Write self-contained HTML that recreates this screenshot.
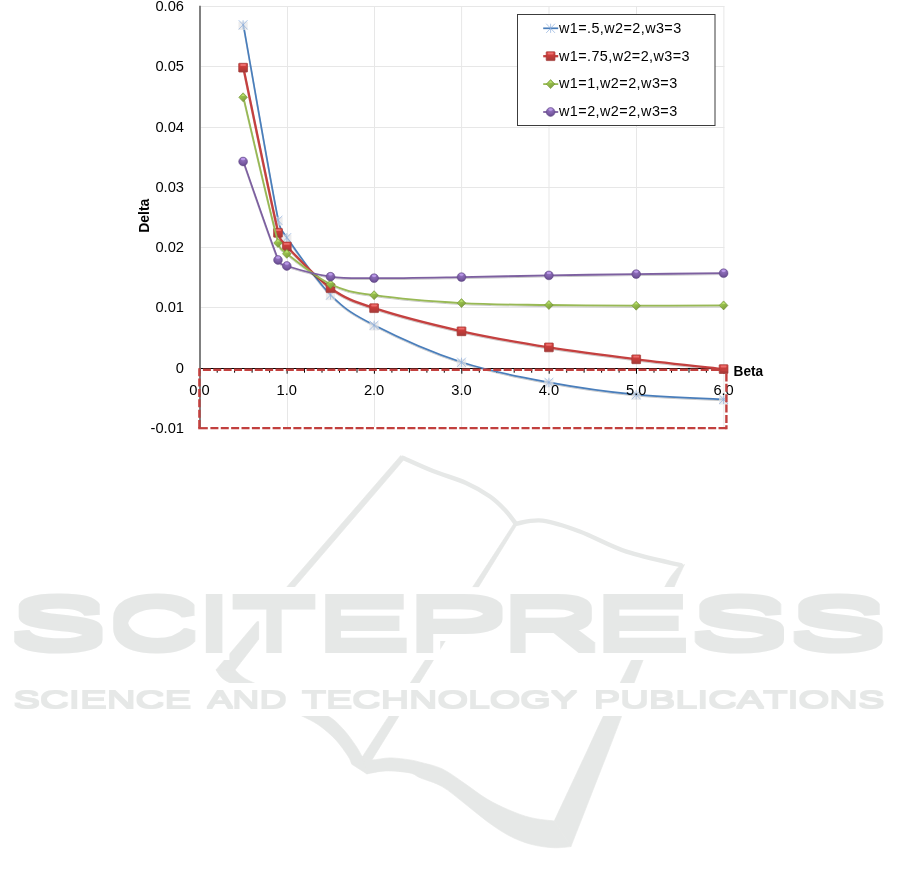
<!DOCTYPE html>
<html lang="en"><head><meta charset="utf-8"><title>Delta vs Beta</title>
<style>
html,body{margin:0;padding:0;background:#fff;}
body{width:901px;height:884px;overflow:hidden;position:relative;font-family:"Liberation Sans",sans-serif;}
svg{position:absolute;left:0;top:0;display:block;}
text{font-family:"Liberation Sans",sans-serif;fill:#000;}
.ax{font-size:14.7px;}
.lg{font-size:14.4px;}
.b{font-weight:bold;font-size:13.9px;}
</style></head><body>
<svg width="901" height="884" viewBox="0 0 901 884">
<defs>
<linearGradient id="gr" x1="0" y1="0" x2="0" y2="1"><stop offset="0" stop-color="#d94644"/><stop offset="0.5" stop-color="#c53b39"/><stop offset="1" stop-color="#a33b39"/></linearGradient>
<linearGradient id="gg" x1="0" y1="0" x2="0.6" y2="1"><stop offset="0" stop-color="#a9d45c"/><stop offset="0.5" stop-color="#96bd4b"/><stop offset="1" stop-color="#7c9c3c"/></linearGradient>
<radialGradient id="gp" cx="0.5" cy="0.3" r="0.75"><stop offset="0" stop-color="#9374c0"/><stop offset="0.55" stop-color="#7c5da6"/><stop offset="1" stop-color="#5e4484"/></radialGradient>
<filter id="sh" x="-5%" y="-5%" width="110%" height="110%"><feGaussianBlur in="SourceAlpha" stdDeviation="0.6"/><feOffset dx="0" dy="1.1"/><feComponentTransfer><feFuncA type="linear" slope="0.22"/></feComponentTransfer><feMerge><feMergeNode/><feMergeNode in="SourceGraphic"/></feMerge></filter>
<filter id="wmA" filterUnits="userSpaceOnUse" x="0" y="570" width="901" height="110"><feMorphology in="SourceAlpha" operator="dilate" radius="1 5" result="fat"/><feMorphology in="fat" operator="dilate" radius="7" result="big"/><feFlood flood-color="#fff"/><feComposite in2="big" operator="in" result="halo"/><feFlood flood-color="#e6e8e7"/><feComposite in2="fat" operator="in" result="ink"/><feMerge><feMergeNode in="halo"/><feMergeNode in="ink"/></feMerge></filter>
<filter id="wmB" filterUnits="userSpaceOnUse" x="0" y="675" width="901" height="50"><feMorphology in="SourceAlpha" operator="dilate" radius="1 1" result="fat"/><feMorphology in="fat" operator="dilate" radius="7" result="big"/><feFlood flood-color="#fff"/><feComposite in2="big" operator="in" result="halo"/><feFlood flood-color="#e6e8e7"/><feComposite in2="fat" operator="in" result="ink"/><feMerge><feMergeNode in="halo"/><feMergeNode in="ink"/></feMerge></filter>
</defs>
<rect width="901" height="884" fill="#fff"/>

<g fill="#e6e8e7" stroke="#e6e8e7" stroke-width="0.7" stroke-linejoin="round">
<path d="M400.8 455.5L404 459.5L295 586.5L288.6 594L280.7 594Z"/>
<path d="M256.9 621.7L258.9 621.7L258.9 639L235 669.9L216 669.9Z"/>
<path d="M216 669.9 C217.0 671.2 219.3 675.6 222.0 677.9 C224.7 680.2 226.8 681.3 232.0 683.9 C239.2 687.4 253.3 693.6 265.0 699.0 C276.7 704.4 292.8 711.5 302.0 716.0 C311.2 720.5 314.4 722.0 320.0 726.0 C325.6 730.0 331.2 735.0 335.9 740.0 C340.5 745.0 345.2 751.9 347.9 755.9 C350.5 759.8 351.2 762.9 351.9 764.3 L366.9 773.9 L371.9 759.9 L362.3 756.9 C361.2 755.1 359.0 750.4 355.9 745.9 C352.8 741.4 348.5 735.0 343.9 730.0 C339.2 725.0 336.1 720.8 328.0 716.0 C319.9 711.2 306.4 706.1 295.0 701.0 C283.6 695.9 268.4 689.4 259.9 685.5 C251.8 681.9 248.1 680.5 243.9 677.9 C239.8 675.3 236.5 671.2 235.0 669.9Z"/>
<path d="M514.3 523L517.2 524.2L371.9 759.9L362.3 756.9Z"/>
<path d="M362.3 756.9 C363.9 757.4 367.3 759.7 371.9 759.9 C376.5 760.1 383.6 757.9 389.9 757.9 C396.2 757.9 404.9 759.2 409.9 759.9 C414.9 760.6 415.0 760.8 420.0 762.2 C425.4 763.7 434.8 765.4 442.2 768.9 C449.6 772.4 457.0 778.3 464.4 783.3 C471.8 788.3 479.2 794.4 486.6 798.8 C494.0 803.2 501.4 806.8 508.8 809.9 C516.2 813.0 523.4 815.9 531.0 817.7 C538.6 819.6 550.4 820.5 554.3 821.0 L570.9 846.6 C567.9 846.8 559.9 848.1 553.2 847.7 C546.6 847.3 538.4 846.3 531.0 844.3 C523.6 842.3 516.2 839.4 508.8 835.5 C501.4 831.6 494.0 826.4 486.6 821.0 C479.2 815.6 471.8 809.0 464.4 803.3 C457.0 797.6 449.6 790.9 442.2 786.6 C434.8 782.3 425.4 780.0 420.0 777.7 C414.9 775.5 415.4 774.0 409.9 772.9 C404.2 771.8 393.1 770.7 385.9 770.9 C378.7 771.1 370.1 773.4 366.9 773.9Z"/>
<path d="M677.5 568.0 C675.5 571.0 670.1 576.2 665.3 585.9 C657.6 601.2 641.9 638.2 631.5 660.0 C621.1 681.8 610.5 701.6 603.2 716.6 C595.9 731.6 592.0 740.6 587.6 750.0 C583.2 759.4 582.1 761.6 576.7 773.2 C571.2 785.0 558.0 813.0 554.3 821.0 L570.9 846.6 C575.7 834.4 593.3 789.3 599.6 773.2 C604.1 761.6 605.1 759.4 608.7 750.0 C612.4 740.6 615.8 731.6 621.5 716.6 C627.2 701.6 634.2 681.8 643.1 660.0 C652.0 638.2 667.7 601.8 674.6 585.9 C679.3 575.1 682.9 568.1 684.5 564.5Z"/>
</g>
<path d="M401.5 457.2 C406.8 459.5 422.2 466.7 433.0 471.0 C443.8 475.3 456.5 478.8 466.0 483.0 C475.5 487.2 483.5 492.0 490.0 496.5 C496.5 501.0 500.7 505.5 505.0 510.0 C509.3 514.5 514.0 521.4 515.8 523.7" fill="none" stroke="#e6e8e7" stroke-width="4.4" stroke-linecap="butt"/>
<path d="M515.8 523.7 C520.2 523.2 531.8 519.3 542.5 520.6 C553.2 521.9 565.8 526.3 579.8 531.5 C593.8 536.7 609.6 546.1 626.5 551.7 C643.4 557.3 671.9 563.0 681.0 565.2" fill="none" stroke="#e6e8e7" stroke-width="4.4" stroke-linecap="round"/>
<rect x="200" y="684.5" width="500" height="31.5" fill="#fff"/>
<text aria-label="SCITEPRESS" y="648.0" font-size="70.9" filter="url(#wmA)" style="font-kerning:none;fill:#e6e8e7"><tspan x="8.1" textLength="100.5" lengthAdjust="spacingAndGlyphs">S</tspan><tspan x="107.7" textLength="91.9" lengthAdjust="spacingAndGlyphs">C</tspan><tspan x="192.6" textLength="43.2" lengthAdjust="spacingAndGlyphs">I</tspan><tspan x="230.6" textLength="87.1" lengthAdjust="spacingAndGlyphs">T</tspan><tspan x="314.2" textLength="97.7" lengthAdjust="spacingAndGlyphs">E</tspan><tspan x="404.5" textLength="105.4" lengthAdjust="spacingAndGlyphs">P</tspan><tspan x="500.0" textLength="101.2" lengthAdjust="spacingAndGlyphs">R</tspan><tspan x="592.3" textLength="99.1" lengthAdjust="spacingAndGlyphs">E</tspan><tspan x="688.5" textLength="101.5" lengthAdjust="spacingAndGlyphs">S</tspan><tspan x="787.4" textLength="101.1" lengthAdjust="spacingAndGlyphs">S</tspan></text>
<text y="708.1" font-size="23.4" filter="url(#wmB)" style="font-kerning:none;fill:#e6e8e7"><tspan x="13.2" textLength="178.0" lengthAdjust="spacingAndGlyphs">SCIENCE</tspan> <tspan x="207.4" textLength="79.1" lengthAdjust="spacingAndGlyphs">AND</tspan> <tspan x="302.1" textLength="275.0" lengthAdjust="spacingAndGlyphs">TECHNOLOGY</tspan> <tspan x="593.8" textLength="290.6" lengthAdjust="spacingAndGlyphs">PUBLICATIONS</tspan></text>
<g stroke="#e7e7e7" stroke-width="1" fill="none">
<path d="M200 6.5H724.4"/>
<path d="M200 66.5H724.4"/>
<path d="M200 127.5H724.4"/>
<path d="M200 187.5H724.4"/>
<path d="M200 247.5H724.4"/>
<path d="M200 307.5H724.4"/>
<path d="M287.5 6V427"/>
<path d="M374.5 6V427"/>
<path d="M461.6 6V427"/>
<path d="M549.0 6V427"/>
<path d="M636.5 6V427"/>
<path d="M723.9 6V427"/>
</g>
<path d="M200 5.7V428.3" stroke="#7a7a7a" stroke-width="1.9" fill="none"/>
<g stroke="#000" stroke-width="1" fill="none">
<path d="M200.9 368.5H724.4"/>
<path d="M199.7 368.5v5.2M217.2 368.5v4.2M234.6 368.5v4.2M252.1 368.5v4.2M269.6 368.5v4.2M287.1 368.5v5.2M304.5 368.5v4.2M322.0 368.5v4.2M339.5 368.5v4.2M357.0 368.5v4.2M374.4 368.5v5.2M391.9 368.5v4.2M409.4 368.5v4.2M426.9 368.5v4.2M444.3 368.5v4.2M461.8 368.5v5.2M479.3 368.5v4.2M496.8 368.5v4.2M514.2 368.5v4.2M531.7 368.5v4.2M549.2 368.5v5.2M566.7 368.5v4.2M584.1 368.5v4.2M601.6 368.5v4.2M619.1 368.5v4.2M636.5 368.5v5.2M654.0 368.5v4.2M671.5 368.5v4.2M689.0 368.5v4.2M706.4 368.5v4.2M723.9 368.5v5.2"/>
</g>
<g class="ax" text-anchor="end">
<text x="184" y="10.5">0.06</text>
<text x="184" y="70.5">0.05</text>
<text x="184" y="131.5">0.04</text>
<text x="184" y="191.5">0.03</text>
<text x="184" y="251.5">0.02</text>
<text x="184" y="311.5">0.01</text>
<text x="184" y="372.5">0</text>
<text x="184" y="432.5">-0.01</text>
</g>
<text class="b" transform="translate(149.1 232.8) rotate(-90)" textLength="34.2" lengthAdjust="spacingAndGlyphs">Delta</text>
<text class="b" x="733.6" y="376" textLength="29.6" lengthAdjust="spacingAndGlyphs">Beta</text>
<path d="M243.38 24.80 C249.21 57.38 271.05 184.82 278.33 220.30 C280.29 229.84 281.48 229.73 287.07 237.70 C295.81 250.15 316.19 280.40 330.75 295.00 C345.32 309.60 352.60 314.08 374.44 325.30 C396.28 336.52 432.69 352.78 461.81 362.30 C490.93 371.82 520.06 377.00 549.18 382.40 C578.30 387.80 607.43 391.87 636.55 394.70 C665.67 397.53 709.36 398.62 723.92 399.40" stroke="#4a7ebb" fill="none" stroke-width="1.7" stroke-linejoin="round" stroke-linecap="round" filter="url(#sh)"/>
<g>
<g transform="translate(243.1 24.8)"><rect x="-4.6" y="-3.2" width="9.2" height="8.4" fill="#e4e4e6" opacity="0.7"/><path d="M-4.4 -4.6L4.4 4.6M4.4 -4.6L-4.4 4.6M0 -4.6V4.6" stroke="#86aadb" stroke-width="0.65" fill="none"/></g>
<g transform="translate(278.0 220.3)"><rect x="-4.6" y="-3.2" width="9.2" height="8.4" fill="#e4e4e6" opacity="0.7"/><path d="M-4.4 -4.6L4.4 4.6M4.4 -4.6L-4.4 4.6M0 -4.6V4.6" stroke="#86aadb" stroke-width="0.65" fill="none"/></g>
<g transform="translate(286.8 237.7)"><rect x="-4.6" y="-3.2" width="9.2" height="8.4" fill="#e4e4e6" opacity="0.7"/><path d="M-4.4 -4.6L4.4 4.6M4.4 -4.6L-4.4 4.6M0 -4.6V4.6" stroke="#86aadb" stroke-width="0.65" fill="none"/></g>
<g transform="translate(330.5 295.0)"><rect x="-4.6" y="-3.2" width="9.2" height="8.4" fill="#e4e4e6" opacity="0.7"/><path d="M-4.4 -4.6L4.4 4.6M4.4 -4.6L-4.4 4.6M0 -4.6V4.6" stroke="#86aadb" stroke-width="0.65" fill="none"/></g>
<g transform="translate(374.1 325.3)"><rect x="-4.6" y="-3.2" width="9.2" height="8.4" fill="#e4e4e6" opacity="0.7"/><path d="M-4.4 -4.6L4.4 4.6M4.4 -4.6L-4.4 4.6M0 -4.6V4.6" stroke="#86aadb" stroke-width="0.65" fill="none"/></g>
<g transform="translate(461.5 362.3)"><rect x="-4.6" y="-3.2" width="9.2" height="8.4" fill="#e4e4e6" opacity="0.7"/><path d="M-4.4 -4.6L4.4 4.6M4.4 -4.6L-4.4 4.6M0 -4.6V4.6" stroke="#86aadb" stroke-width="0.65" fill="none"/></g>
<g transform="translate(548.9 382.4)"><rect x="-4.6" y="-3.2" width="9.2" height="8.4" fill="#e4e4e6" opacity="0.7"/><path d="M-4.4 -4.6L4.4 4.6M4.4 -4.6L-4.4 4.6M0 -4.6V4.6" stroke="#86aadb" stroke-width="0.65" fill="none"/></g>
<g transform="translate(636.2 394.7)"><rect x="-4.6" y="-3.2" width="9.2" height="8.4" fill="#e4e4e6" opacity="0.7"/><path d="M-4.4 -4.6L4.4 4.6M4.4 -4.6L-4.4 4.6M0 -4.6V4.6" stroke="#86aadb" stroke-width="0.65" fill="none"/></g>
<g transform="translate(723.6 399.4)"><rect x="-4.6" y="-3.2" width="9.2" height="8.4" fill="#e4e4e6" opacity="0.7"/><path d="M-4.4 -4.6L4.4 4.6M4.4 -4.6L-4.4 4.6M0 -4.6V4.6" stroke="#86aadb" stroke-width="0.65" fill="none"/></g>
</g>
<path d="M243.38 67.70 C249.21 95.22 271.05 203.00 278.33 232.80 C280.26 240.69 281.49 240.60 287.07 246.50 C295.81 255.73 316.19 277.92 330.75 288.20 C345.32 298.48 352.60 301.02 374.44 308.20 C396.28 315.38 432.69 324.77 461.81 331.30 C490.93 337.83 520.06 342.73 549.18 347.40 C578.30 352.07 607.43 355.68 636.55 359.30 C665.67 362.92 709.36 367.47 723.92 369.10" stroke="#c4413f" fill="none" stroke-width="2.3" stroke-linejoin="round" stroke-linecap="round" filter="url(#sh)"/>
<g>
<g transform="translate(243.1 67.7)"><rect x="-4.4" y="-4.4" width="8.8" height="8.8" rx="0.5" fill="url(#gr)" stroke="#a23937" stroke-width="0.7"/><rect x="-2.9" y="-3.6" width="5.8" height="1.9" rx="0.9" fill="#ff8a88" opacity="0.6"/></g>
<g transform="translate(278.0 232.8)"><rect x="-4.4" y="-4.4" width="8.8" height="8.8" rx="0.5" fill="url(#gr)" stroke="#a23937" stroke-width="0.7"/><rect x="-2.9" y="-3.6" width="5.8" height="1.9" rx="0.9" fill="#ff8a88" opacity="0.6"/></g>
<g transform="translate(286.8 246.5)"><rect x="-4.4" y="-4.4" width="8.8" height="8.8" rx="0.5" fill="url(#gr)" stroke="#a23937" stroke-width="0.7"/><rect x="-2.9" y="-3.6" width="5.8" height="1.9" rx="0.9" fill="#ff8a88" opacity="0.6"/></g>
<g transform="translate(330.5 288.2)"><rect x="-4.4" y="-4.4" width="8.8" height="8.8" rx="0.5" fill="url(#gr)" stroke="#a23937" stroke-width="0.7"/><rect x="-2.9" y="-3.6" width="5.8" height="1.9" rx="0.9" fill="#ff8a88" opacity="0.6"/></g>
<g transform="translate(374.1 308.2)"><rect x="-4.4" y="-4.4" width="8.8" height="8.8" rx="0.5" fill="url(#gr)" stroke="#a23937" stroke-width="0.7"/><rect x="-2.9" y="-3.6" width="5.8" height="1.9" rx="0.9" fill="#ff8a88" opacity="0.6"/></g>
<g transform="translate(461.5 331.3)"><rect x="-4.4" y="-4.4" width="8.8" height="8.8" rx="0.5" fill="url(#gr)" stroke="#a23937" stroke-width="0.7"/><rect x="-2.9" y="-3.6" width="5.8" height="1.9" rx="0.9" fill="#ff8a88" opacity="0.6"/></g>
<g transform="translate(548.9 347.4)"><rect x="-4.4" y="-4.4" width="8.8" height="8.8" rx="0.5" fill="url(#gr)" stroke="#a23937" stroke-width="0.7"/><rect x="-2.9" y="-3.6" width="5.8" height="1.9" rx="0.9" fill="#ff8a88" opacity="0.6"/></g>
<g transform="translate(636.2 359.3)"><rect x="-4.4" y="-4.4" width="8.8" height="8.8" rx="0.5" fill="url(#gr)" stroke="#a23937" stroke-width="0.7"/><rect x="-2.9" y="-3.6" width="5.8" height="1.9" rx="0.9" fill="#ff8a88" opacity="0.6"/></g>
<g transform="translate(723.6 369.1)"><rect x="-4.4" y="-4.4" width="8.8" height="8.8" rx="0.5" fill="url(#gr)" stroke="#a23937" stroke-width="0.7"/><rect x="-2.9" y="-3.6" width="5.8" height="1.9" rx="0.9" fill="#ff8a88" opacity="0.6"/></g>
</g>
<path d="M243.38 97.30 C249.21 121.58 271.05 216.92 278.33 243.00 C280.20 249.69 281.61 249.50 287.07 253.80 C295.81 260.68 316.19 277.40 330.75 284.30 C345.32 291.20 352.60 292.07 374.44 295.20 C396.28 298.33 432.69 301.47 461.81 303.10 C490.93 304.73 520.06 304.57 549.18 305.00 C578.30 305.43 607.43 305.63 636.55 305.70 C665.67 305.77 709.36 305.45 723.92 305.40" stroke="#98b954" fill="none" stroke-width="1.8" stroke-linejoin="round" stroke-linecap="round" filter="url(#sh)"/>
<g>
<g transform="translate(243.1 97.3)"><path d="M0 -4.5L4.3 0L0 4.5L-4.3 0Z" fill="url(#gg)" stroke="#6f8f34" stroke-width="0.6"/><path d="M0 -3.4L1.9 -1.4L-1.9 -1.4Z" fill="#c3ea78" opacity="0.8"/></g>
<g transform="translate(278.0 243.0)"><path d="M0 -4.5L4.3 0L0 4.5L-4.3 0Z" fill="url(#gg)" stroke="#6f8f34" stroke-width="0.6"/><path d="M0 -3.4L1.9 -1.4L-1.9 -1.4Z" fill="#c3ea78" opacity="0.8"/></g>
<g transform="translate(286.8 253.8)"><path d="M0 -4.5L4.3 0L0 4.5L-4.3 0Z" fill="url(#gg)" stroke="#6f8f34" stroke-width="0.6"/><path d="M0 -3.4L1.9 -1.4L-1.9 -1.4Z" fill="#c3ea78" opacity="0.8"/></g>
<g transform="translate(330.5 284.3)"><path d="M0 -4.5L4.3 0L0 4.5L-4.3 0Z" fill="url(#gg)" stroke="#6f8f34" stroke-width="0.6"/><path d="M0 -3.4L1.9 -1.4L-1.9 -1.4Z" fill="#c3ea78" opacity="0.8"/></g>
<g transform="translate(374.1 295.2)"><path d="M0 -4.5L4.3 0L0 4.5L-4.3 0Z" fill="url(#gg)" stroke="#6f8f34" stroke-width="0.6"/><path d="M0 -3.4L1.9 -1.4L-1.9 -1.4Z" fill="#c3ea78" opacity="0.8"/></g>
<g transform="translate(461.5 303.1)"><path d="M0 -4.5L4.3 0L0 4.5L-4.3 0Z" fill="url(#gg)" stroke="#6f8f34" stroke-width="0.6"/><path d="M0 -3.4L1.9 -1.4L-1.9 -1.4Z" fill="#c3ea78" opacity="0.8"/></g>
<g transform="translate(548.9 305.0)"><path d="M0 -4.5L4.3 0L0 4.5L-4.3 0Z" fill="url(#gg)" stroke="#6f8f34" stroke-width="0.6"/><path d="M0 -3.4L1.9 -1.4L-1.9 -1.4Z" fill="#c3ea78" opacity="0.8"/></g>
<g transform="translate(636.2 305.7)"><path d="M0 -4.5L4.3 0L0 4.5L-4.3 0Z" fill="url(#gg)" stroke="#6f8f34" stroke-width="0.6"/><path d="M0 -3.4L1.9 -1.4L-1.9 -1.4Z" fill="#c3ea78" opacity="0.8"/></g>
<g transform="translate(723.6 305.4)"><path d="M0 -4.5L4.3 0L0 4.5L-4.3 0Z" fill="url(#gg)" stroke="#6f8f34" stroke-width="0.6"/><path d="M0 -3.4L1.9 -1.4L-1.9 -1.4Z" fill="#c3ea78" opacity="0.8"/></g>
</g>
<path d="M243.38 161.50 C249.21 177.92 271.05 242.58 278.33 260.00 C280.38 264.89 282.02 264.39 287.07 266.00 C295.81 268.78 316.19 274.67 330.75 276.70 C345.32 278.73 352.60 278.13 374.44 278.20 C396.28 278.27 432.69 277.57 461.81 277.10 C490.93 276.63 520.06 275.90 549.18 275.40 C578.30 274.90 607.43 274.47 636.55 274.10 C665.67 273.73 709.36 273.35 723.92 273.20" stroke="#7d60a0" fill="none" stroke-width="1.8" stroke-linejoin="round" stroke-linecap="round" filter="url(#sh)"/>
<g>
<g transform="translate(243.1 161.5)"><circle r="4.4" fill="url(#gp)" stroke="#5d4482" stroke-width="0.5"/><ellipse cx="0" cy="-2.5" rx="2.2" ry="1.2" fill="#c6a4f4" opacity="0.8"/></g>
<g transform="translate(278.0 260.0)"><circle r="4.4" fill="url(#gp)" stroke="#5d4482" stroke-width="0.5"/><ellipse cx="0" cy="-2.5" rx="2.2" ry="1.2" fill="#c6a4f4" opacity="0.8"/></g>
<g transform="translate(286.8 266.0)"><circle r="4.4" fill="url(#gp)" stroke="#5d4482" stroke-width="0.5"/><ellipse cx="0" cy="-2.5" rx="2.2" ry="1.2" fill="#c6a4f4" opacity="0.8"/></g>
<g transform="translate(330.5 276.7)"><circle r="4.4" fill="url(#gp)" stroke="#5d4482" stroke-width="0.5"/><ellipse cx="0" cy="-2.5" rx="2.2" ry="1.2" fill="#c6a4f4" opacity="0.8"/></g>
<g transform="translate(374.1 278.2)"><circle r="4.4" fill="url(#gp)" stroke="#5d4482" stroke-width="0.5"/><ellipse cx="0" cy="-2.5" rx="2.2" ry="1.2" fill="#c6a4f4" opacity="0.8"/></g>
<g transform="translate(461.5 277.1)"><circle r="4.4" fill="url(#gp)" stroke="#5d4482" stroke-width="0.5"/><ellipse cx="0" cy="-2.5" rx="2.2" ry="1.2" fill="#c6a4f4" opacity="0.8"/></g>
<g transform="translate(548.9 275.4)"><circle r="4.4" fill="url(#gp)" stroke="#5d4482" stroke-width="0.5"/><ellipse cx="0" cy="-2.5" rx="2.2" ry="1.2" fill="#c6a4f4" opacity="0.8"/></g>
<g transform="translate(636.2 274.1)"><circle r="4.4" fill="url(#gp)" stroke="#5d4482" stroke-width="0.5"/><ellipse cx="0" cy="-2.5" rx="2.2" ry="1.2" fill="#c6a4f4" opacity="0.8"/></g>
<g transform="translate(723.6 273.2)"><circle r="4.4" fill="url(#gp)" stroke="#5d4482" stroke-width="0.5"/><ellipse cx="0" cy="-2.5" rx="2.2" ry="1.2" fill="#c6a4f4" opacity="0.8"/></g>
</g>
<g class="ax" text-anchor="middle">
<text x="199.5" y="394.6">0.0</text>
<text x="286.8" y="394.6">1.0</text>
<text x="374.1" y="394.6">2.0</text>
<text x="461.5" y="394.6">3.0</text>
<text x="548.9" y="394.6">4.0</text>
<text x="636.2" y="394.6">5.0</text>
<text x="723.6" y="394.6">6.0</text>
</g>
<g fill="none" stroke="#c2403e" stroke-width="2.2" stroke-dasharray="8 2.37">
<path d="M202.9 369.7H727.5" stroke-width="2.4"/>
<path d="M199.4 368.2V429.3" stroke-width="2.4"/>
<path d="M726.4 373.4V429.3" stroke-width="2.4"/>
<path d="M210.4 428.2H727.5"/>
<path d="M198.2 428.2H207.8" stroke-dasharray="none"/>
</g>
<rect x="517.5" y="14.5" width="197.5" height="111" fill="#fff" stroke="#3c3c3c" stroke-width="1"/>
<path d="M543.2 28.3H558.2" stroke="#4a7ebb" stroke-width="1.7" fill="none"/>
<g transform="translate(550.6 28.3)"><rect x="-4.6" y="-3.2" width="9.2" height="8.4" fill="#e4e4e6" opacity="0"/><path d="M-4.4 -4.6L4.4 4.6M4.4 -4.6L-4.4 4.6M0 -4.6V4.6" stroke="#86aadb" stroke-width="0.65" fill="none"/></g>
<text class="lg" x="559" y="32.9" textLength="122.2" lengthAdjust="spacing">w1=.5,w2=2,w3=3</text>
<path d="M543.2 56.2H558.2" stroke="#c4413f" stroke-width="2.3" fill="none"/>
<g transform="translate(550.6 56.2)"><rect x="-4.4" y="-4.4" width="8.8" height="8.8" rx="0.5" fill="url(#gr)" stroke="#a23937" stroke-width="0.7"/><rect x="-2.9" y="-3.6" width="5.8" height="1.9" rx="0.9" fill="#ff8a88" opacity="0.6"/></g>
<text class="lg" x="559" y="60.6" textLength="130.5" lengthAdjust="spacing">w1=.75,w2=2,w3=3</text>
<path d="M543.2 84.1H558.2" stroke="#98b954" stroke-width="1.8" fill="none"/>
<g transform="translate(550.6 84.1)"><path d="M0 -4.5L4.3 0L0 4.5L-4.3 0Z" fill="url(#gg)" stroke="#6f8f34" stroke-width="0.6"/><path d="M0 -3.4L1.9 -1.4L-1.9 -1.4Z" fill="#c3ea78" opacity="0.8"/></g>
<text class="lg" x="559" y="88.3" textLength="118.2" lengthAdjust="spacing">w1=1,w2=2,w3=3</text>
<path d="M543.2 112.0H558.2" stroke="#7d60a0" stroke-width="1.8" fill="none"/>
<g transform="translate(550.6 112.0)"><circle r="4.4" fill="url(#gp)" stroke="#5d4482" stroke-width="0.5"/><ellipse cx="0" cy="-2.5" rx="2.2" ry="1.2" fill="#c6a4f4" opacity="0.8"/></g>
<text class="lg" x="559" y="116.0" textLength="118.2" lengthAdjust="spacing">w1=2,w2=2,w3=3</text>
</svg>
</body></html>
